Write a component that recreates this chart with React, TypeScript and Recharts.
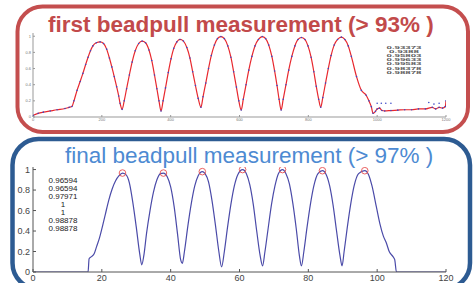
import { ComposedChart, Line, Scatter, XAxis, YAxis } from 'recharts'

// first beadpull measurement (top plot)
const firstX = [0, 15, 30, 50, 70, 93, 105, 113, 119, 128, 137, 145, 153, 160, 167, 174, 184, 195, 205, 214, 222, 229, 236, 243, 249, 253, 259,
  265, 272, 280, 288, 297, 307, 317, 327, 337, 345, 353, 360, 366, 372,
  378, 385, 393, 401, 409, 418, 427, 437, 447, 456, 464, 472, 480, 488,
  494, 502, 510, 518, 527, 536, 546, 556, 566, 575, 583, 591, 598, 605,
  611, 619, 627, 636, 645, 655, 666, 676, 685, 694, 702, 709, 715, 721,
  727, 735, 743, 752, 761, 770, 780, 790, 799, 808, 816, 823, 830, 836,
  842, 850, 858, 866, 875, 885, 896, 906, 916, 925, 940, 954, 968, 976, 983, 988,
  995, 1000, 1007, 1014, 1022, 1040, 1060, 1080, 1100, 1120, 1140, 1160, 1170, 1180, 1190, 1198, 1200]
const firstY = [0.02, 0.045, 0.06, 0.075, 0.09, 0.105, 0.12, 0.13, 0.2, 0.33, 0.44, 0.54, 0.65, 0.74, 0.82, 0.88, 0.92, 0.93, 0.91, 0.84, 0.73, 0.62, 0.5, 0.375, 0.26, 0.17, 0.095,
  0.2, 0.35, 0.52, 0.68, 0.82, 0.91, 0.94, 0.92, 0.83, 0.7, 0.52, 0.35, 0.2, 0.074,
  0.2, 0.36, 0.55, 0.72, 0.85, 0.93, 0.96, 0.94, 0.86, 0.73, 0.56, 0.39, 0.23, 0.12,
  0.25, 0.42, 0.6, 0.76, 0.89, 0.97, 0.996, 0.97, 0.88, 0.74, 0.56, 0.37, 0.2, 0.087,
  0.22, 0.4, 0.58, 0.75, 0.88, 0.96, 0.996, 0.97, 0.89, 0.75, 0.57, 0.39, 0.22, 0.087,
  0.22, 0.4, 0.58, 0.75, 0.88, 0.96, 0.984, 0.96, 0.88, 0.74, 0.56, 0.38, 0.22, 0.12,
  0.24, 0.42, 0.6, 0.76, 0.89, 0.96, 0.989, 0.96, 0.88, 0.75, 0.5, 0.33, 0.27, 0.2, 0.128, 0.046,
  0.07, 0.1, 0.11, 0.08, 0.075, 0.08, 0.085, 0.09, 0.09, 0.1, 0.1, 0.12, 0.1, 0.12, 0.11, 0.13, 0.2]
const strayX = [1000, 1012, 1025, 1040, 1150, 1165, 1180]
const strayY = [0.17, 0.17, 0.17, 0.17, 0.18, 0.16, 0.17]
const firstXTicks = [0, 200, 400, 600, 800, 1000, 1200]
const firstYTicks = [0, 0.1, 0.2, 0.3, 0.4, 0.5, 0.6, 0.7, 0.8, 0.9, 1]
const firstLabels = ['0.93373', '0.9388', '0.95803', '0.99633', '0.99583', '0.98378', '0.98878']

// final beadpull measurement (bottom plot)
const finalX = [0, 5, 10, 15, 16, 16.3, 17, 17.8, 18.5, 19.3, 20, 21, 22, 23, 24, 25, 26, 27, 28, 29, 30, 31, 31.6, 32.2, 33,
  34, 35, 36, 37, 37.9, 39, 40, 41, 42, 42.9, 43.4, 44, 45, 46, 47, 48, 49.2, 50, 51, 52, 53, 54, 54.8, 55.6, 56.5,
  57.5, 58.5, 59.5, 60.9, 62, 63, 64, 65, 66, 66.7, 67.4, 68.3, 69.3, 70.3, 71.3, 72.5, 73.5, 74.5, 75.5, 76.5,
  77.4, 78, 78.7, 79.6, 80.6, 81.6, 82.8, 84.1, 85.2, 86.2, 87.2, 88.2, 89.2, 89.8, 90.4, 91.3, 92.3, 93.3, 94.6, 96.4,
  97.5, 98.5, 99.8, 100.8, 101.8, 102.7, 103.5, 104.6, 105.1, 105.6, 110, 115, 120]
const finalY = [0, 0, 0, 0, 0, 0.13, 0.15, 0.18, 0.25, 0.33, 0.42, 0.56, 0.7, 0.81, 0.89, 0.94, 0.966, 0.95, 0.87, 0.68, 0.44, 0.18, 0.07, 0.16, 0.38,
  0.6, 0.78, 0.9, 0.96, 0.966, 0.93, 0.83, 0.64, 0.37, 0.12, 0.085, 0.2, 0.45, 0.67, 0.84, 0.94, 0.98, 0.96, 0.88, 0.7, 0.46, 0.2, 0.05, 0.2, 0.43,
  0.66, 0.84, 0.95, 1.0, 0.96, 0.85, 0.66, 0.4, 0.16, 0.06, 0.2, 0.42, 0.66, 0.84, 0.96, 1.0, 0.96, 0.86, 0.67, 0.42,
  0.16, 0.06, 0.2, 0.43, 0.66, 0.84, 0.96, 0.989, 0.95, 0.84, 0.65, 0.4, 0.16, 0.06, 0.2, 0.43, 0.66, 0.84, 0.96, 0.989,
  0.95, 0.84, 0.63, 0.47, 0.35, 0.28, 0.2, 0.15, 0.12, 0, 0, 0, 0]
const peakX = [26, 37.9, 49.2, 60.9, 72.5, 84.1, 96.4]
const peakY = [0.96594, 0.96594, 0.97971, 1, 1, 0.98878, 0.98878]
const finalXTicks = [0, 20, 40, 60, 80, 100, 120]
const finalYTicks = [0, 0.2, 0.4, 0.6, 0.8, 1]
const finalLabels = ['0.96594', '0.96594', '0.97971', '1', '1', '0.98878', '0.98878']

const firstRows = firstX.map((x, i) => ({ x, y: firstY[i] }))
const strayRows = strayX.map((x, i) => ({ x, y: strayY[i] }))
const finalRows = finalX.map((x, i) => ({ x, y: finalY[i] }))
const peakRows = peakX.map((x, i) => ({ x, y: peakY[i] }))

const font = 'Liberation Sans, Arial, Helvetica, sans-serif'
const blank = () => ''

const Ring = (p: any) => (
  <circle cx={p.cx} cy={p.cy} r={3.3} fill="none" stroke="#e85050" strokeWidth={0.9} />
)
const BlueDot = (p: any) => (
  <circle cx={p.cx} cy={p.cy} r={0.8} fill="#3b48c8" />
)

export default function App() {
  return (
    <div style={{ position: 'absolute', left: 0, top: 0, width: 473, height: 283, background: '#fff', overflow: 'hidden', fontFamily: font }}>
      <div style={{ position: 'absolute', left: 0, top: 0 }}>
        <ComposedChart width={473} height={135} data={firstRows} margin={{ top: 33, right: 27, left: 13, bottom: 10 }}>
          <XAxis dataKey="x" type="number" domain={[0, 1200]} ticks={firstXTicks} allowDataOverflow
            height={8} stroke="#999" tickSize={-2} tickMargin={3} tick={{ fontSize: 4, fill: '#777' }} />
          <YAxis type="number" domain={[0, 1.04]} ticks={firstYTicks} allowDataOverflow
            width={20} stroke="#999" tickSize={-2} tickMargin={4} tick={{ fontSize: 4, fill: '#777' }} />
          <XAxis xAxisId="t" orientation="top" type="number" domain={[0, 1200]} ticks={firstXTicks} allowDataOverflow
            height={0} stroke="#bbb" tickSize={-2} tickFormatter={blank} />
          <YAxis yAxisId="r" orientation="right" type="number" domain={[0, 1.04]} ticks={firstYTicks} allowDataOverflow
            width={0} stroke="#999" tickSize={-2} tickFormatter={blank} />
          <Line dataKey="y" type="monotone" stroke="#e8282e" strokeWidth={1.2} dot={BlueDot} isAnimationActive={false} />
          <Scatter data={strayRows} dataKey="y" shape={BlueDot} isAnimationActive={false} />
        </ComposedChart>
      </div>
      <div style={{ position: 'absolute', left: 0, top: 0 }}>
        <ComposedChart width={473} height={283} data={finalRows} margin={{ top: 167, right: 27, left: 8, bottom: 1 }}>
          <XAxis dataKey="x" type="number" domain={[0, 120]} ticks={finalXTicks} allowDataOverflow
            height={10} stroke="#555" tickSize={-3} tickMargin={6} tick={{ fontSize: 9, fill: '#444' }} />
          <YAxis type="number" domain={[0, 1.025]} ticks={finalYTicks} allowDataOverflow
            width={25} stroke="#555" tickSize={-3} tickMargin={6} tick={{ fontSize: 9, fill: '#444' }} />
          <XAxis xAxisId="t" orientation="top" type="number" domain={[0, 120]} ticks={finalXTicks} allowDataOverflow
            height={0} stroke="#555" tickSize={-3} tickFormatter={blank} />
          <YAxis yAxisId="r" orientation="right" type="number" domain={[0, 1.025]} ticks={finalYTicks} allowDataOverflow
            width={0} stroke="#555" tickSize={-3} tickFormatter={blank} />
          <Line dataKey="y" type="monotone" stroke="#4a4aa8" strokeWidth={1.2} dot={false} isAnimationActive={false} />
          <Scatter data={peakRows} dataKey="y" shape={Ring} isAnimationActive={false} />
        </ComposedChart>
      </div>
      <svg width={473} height={283} style={{ position: 'absolute', left: 0, top: 0, pointerEvents: 'none' }}>
        <rect x={17.5} y={6.5} width={450.5} height={125.5} rx={25} fill="none" stroke="#c44e4e" strokeWidth={4} />
        <rect x={12.5} y={139} width={457.5} height={150} rx={26} fill="none" stroke="#2d5b92" strokeWidth={4.5} />
        <text x={48} y={32} fontSize={22.5} fontWeight="bold" fill="#c24a4a" fontFamily={font}>
          first beadpull measurement (&gt; 93% )
        </text>
        <text x={65} y={163} fontSize={22.5} fill="#4d8ad2" fontFamily={font}>
          final beadpull measurement (&gt; 97% )
        </text>
        {firstLabels.map((s, i) => (
          <text key={'a' + i} x={404} y={49 + i * 4.1} fontSize={3.8} fontWeight="bold" fill="#555" textAnchor="middle"
            fontFamily={font} textLength={s.length * 5} lengthAdjust="spacingAndGlyphs">{s}</text>
        ))}
        {finalLabels.map((s, i) => (
          <text key={'b' + i} x={63} y={183 + i * 8} fontSize={8} fill="#222" textAnchor="middle" fontFamily={font}>{s}</text>
        ))}
      </svg>
    </div>
  )
}
